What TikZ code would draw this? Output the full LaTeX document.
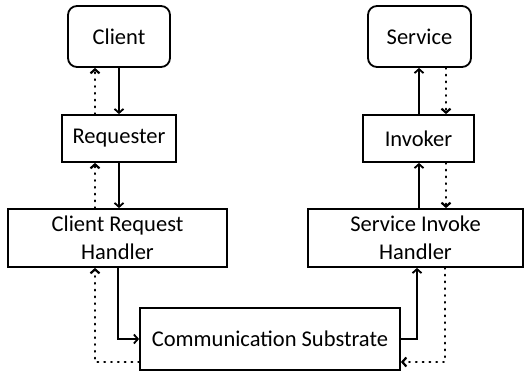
\documentclass[tikz,border=0pt]{standalone}
\usepackage{fontspec}
\setmainfont{Carlito}
\usetikzlibrary{arrows.meta}
\usetikzlibrary{calc,positioning}

\begin{document}
\begin{tikzpicture}[>={Straight Barb[length=4pt,width=9pt]}, x=1pt, y=-1pt,
    box/.style={draw, line width=1.8pt, align=center, inner sep=0pt,
        font=\fontsize{22.5}{28}\selectfont},
    role/.style={box, rounded corners=9pt},
    call/.style={->, line width=1.8pt},
    reply/.style={->, line width=2.2pt, line cap=round, dash pattern=on 0.8pt off 6pt}]

    \useasboundingbox (0,0) rectangle (525,372);

    % top row
    \node[role, minimum width=102pt, minimum height=61pt] (client) at (119,36.5) {Client};
    \node[role, minimum width=103pt, minimum height=61pt] (service) at (419.5,36.5) {Service};

    % proxies
    \node[box, minimum width=114pt, minimum height=47pt] (requester) at (119,138.5) {Requester};
    \node[box, minimum width=111pt, minimum height=47pt] (invoker) at (418.5,138.5) {Invoker};

    % handlers
    \node[box, minimum width=219pt, minimum height=58pt] (crh) at (117.5,238) {Client Request\\Handler};
    \node[box, minimum width=215pt, minimum height=58pt] (sih) at (415.5,238) {Service Invoke\\Handler};

    \node[box, minimum width=260pt, minimum height=62pt] (cs) at (270,339) {Communication Substrate};

    % request path
    \draw[call] (client) -- (requester);
    \draw[call] (requester.south) -- (requester.south |- crh.north);
    \draw[call] ([xshift=0.5pt]crh.south) |- (cs.west);
    \draw[call] (cs.east) -| ([xshift=1.5pt]sih.south);
    \draw[call] ([xshift=3.5pt]sih.north) -- ([xshift=3.5pt]sih.north |- invoker.south);
    \draw[call] ([xshift=-0.5pt]invoker.north -| service.south) -- ([xshift=-0.5pt]service.south);

    % reply path
    \draw[reply] ([xshift=26.5pt]service.south) -- ([xshift=26.5pt]service.south |- invoker.north);
    \draw[reply] ([xshift=27.5pt]invoker.south) -- ([xshift=27.5pt]invoker.south |- sih.north);
    \draw[reply] ([xshift=29.5pt]sih.south) |- ([yshift=-23pt]cs.east);
    \draw[reply] ([yshift=-23pt]cs.west) -| ([xshift=-22.5pt]crh.south);
    \draw[reply] ([xshift=-22.5pt]crh.north) -- ([xshift=-22.5pt]crh.north |- requester.south);
    \draw[reply] ([xshift=-24pt]requester.north) -- ([xshift=-24pt]client.south);

\end{tikzpicture}
\end{document}
